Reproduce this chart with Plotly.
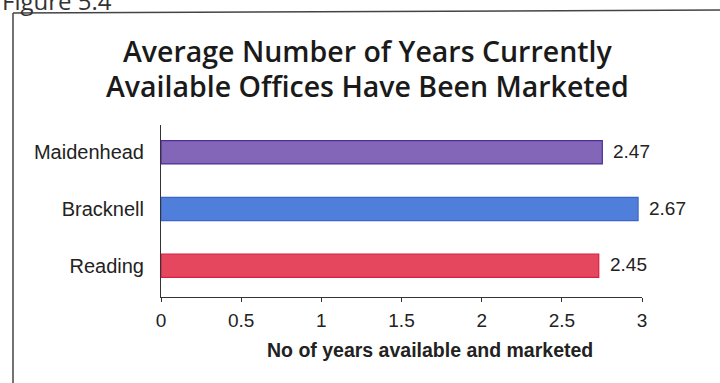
import plotly.graph_objects as go

# Average years on the market for currently available offices
towns = ["Maidenhead", "Bracknell", "Reading"]
years = [2.47, 2.67, 2.45]
bar_colors = ["#8466b8", "#4f7edb", "#e5475f"]
edge_colors = ["#4b2e96", "#3a64c8", "#d81f43"]

tick_values = [0, 0.5, 1, 1.5, 2, 2.5, 3]
tick_labels = ["0", "0.5", "1", "1.5", "2", "2.5", "3"]
x_title = "No of years available and marketed"

W, H = 720, 383
x0_px, x1_px = 161, 642      # visible axis span (0 -> 3)
y_top_px, y_bot_px = 125, 297

label_font = dict(family="Liberation Sans, Arial", size=19, color="#222")

fig = go.Figure()

# carrier trace so the visible 0-3 axis is drawn
fig.add_trace(go.Scatter(
    x=[tick_values[0], tick_values[-1]], y=[towns[0], towns[0]],
    mode="none", xaxis="x", yaxis="y",
    showlegend=False, hoverinfo="skip",
))

fig.add_trace(go.Bar(
    y=towns,
    x=years,
    orientation="h",
    xaxis="x2",
    yaxis="y",
    width=0.41,
    marker=dict(color=bar_colors, line=dict(color=edge_colors, width=1.2)),
    showlegend=False,
    hoverinfo="x+y",
))

# value labels beside each bar
for town, val in zip(towns, years):
    fig.add_annotation(
        x=val, y=town, xref="x2", yref="y",
        text=f"{val:.2f}", showarrow=False,
        xanchor="left", xshift=9, yshift=1,
        font=label_font,
    )

dom_x = [x0_px / W, x1_px / W]
dom_y = [(H - y_bot_px) / H, (H - y_top_px) / H]

fig.update_layout(
    width=W, height=H,
    margin=dict(l=0, r=0, t=0, b=0),
    paper_bgcolor="white",
    plot_bgcolor="white",
    xaxis=dict(
        domain=dom_x, range=[0, 3],
        tickvals=tick_values, ticktext=tick_labels,
        showgrid=False, zeroline=False,
        showline=True, linecolor="#333", linewidth=1,
        ticks="outside", ticklen=4, tickcolor="#333",
        tickfont=label_font, ticklabelstandoff=2,
        automargin=False,
        fixedrange=True,
    ),
    xaxis2=dict(
        domain=dom_x, overlaying="x", anchor="y",
        range=[0, 2.692], visible=False, fixedrange=True,
        automargin=False,
    ),
    yaxis=dict(
        domain=dom_y,
        categoryorder="array", categoryarray=towns[::-1],
        range=[-0.55, 2.48],
        showgrid=False, zeroline=False,
        showline=True, linecolor="#333", linewidth=1,
        ticks="", ticklabelstandoff=12,
        tickfont=dict(family="Liberation Sans, Arial", size=20, color="#222"),
        automargin=False,
        fixedrange=True,
    ),
    font=dict(family="Liberation Sans, Arial"),
)

# x-axis title
fig.add_annotation(
    x=430 / W, y=1 - 350 / H, xref="paper", yref="paper",
    text=f"<b>{x_title}</b>", showarrow=False,
    xanchor="center", yanchor="middle",
    font=dict(family="Liberation Sans, Arial", size=19.5, color="#222"),
)

# chart title
title_font = dict(family="Open Sans, Noto Sans", size=28.5, color="#1a1a1a", weight=600)
fig.add_annotation(
    x=367 / W, y=1 - 51 / H, xref="paper", yref="paper",
    text="Average Number of Years Currently",
    showarrow=False, xanchor="center", yanchor="middle",
    font=title_font,
)
fig.add_annotation(
    x=367 / W, y=1 - 86 / H, xref="paper", yref="paper",
    text="Available Offices Have Been Marketed",
    showarrow=False, xanchor="center", yanchor="middle",
    font=title_font,
)

# figure caption, running off the top edge
fig.add_annotation(
    x=0, y=1 + 18 / H, xref="paper", yref="paper",
    text="Figure 5.4", showarrow=False, xanchor="left", yanchor="top",
    font=dict(family="Open Sans, Noto Sans", size=24, color="#333"),
)

# frame around the figure
fig.add_shape(
    type="line", xref="paper", yref="paper",
    x0=13 / W, y0=1 - 13 / H, x1=1, y1=1 - 10 / H,
    line=dict(color="#444", width=1.5),
)
fig.add_shape(
    type="line", xref="paper", yref="paper",
    x0=13 / W, y0=1 - 13 / H, x1=13 / W, y1=0,
    line=dict(color="#444", width=1.5),
)

fig.write_html("out.html")
